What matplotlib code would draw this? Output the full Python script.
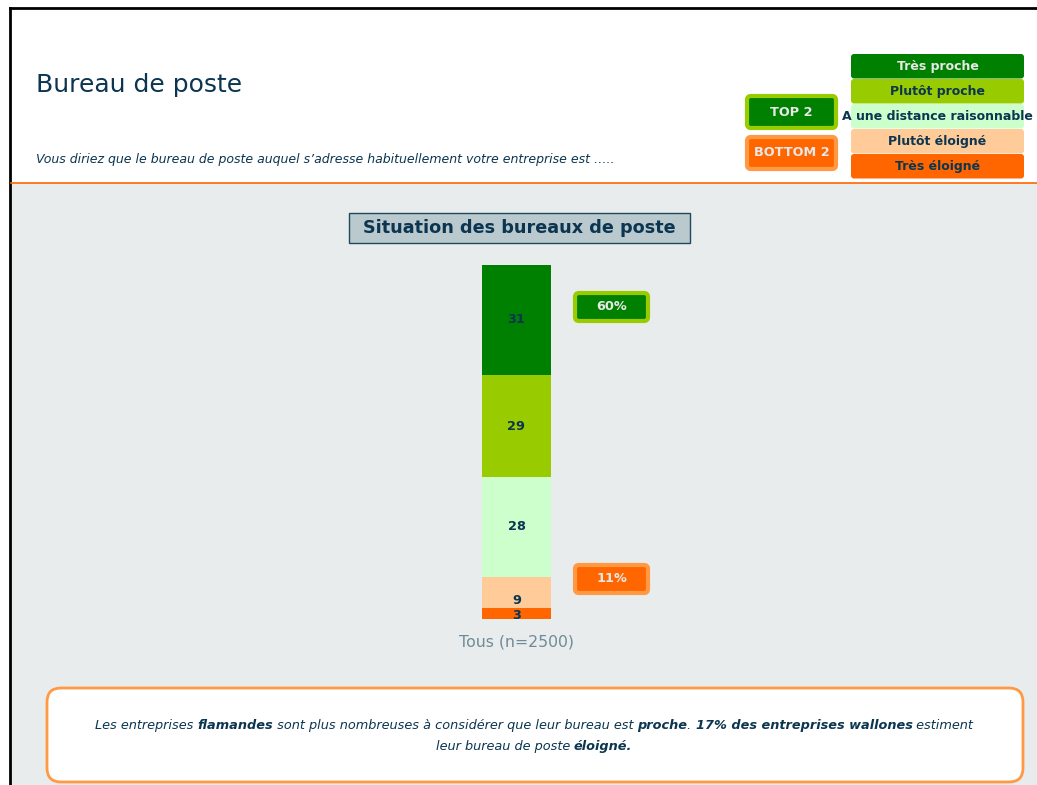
import matplotlib
matplotlib.use("Agg")
import matplotlib.pyplot as plt
from matplotlib.patches import FancyBboxPatch, Rectangle

# données
categories = ["Tous (n=2500)"]
labels = ["Très proche", "Plutôt proche", "A une distance raisonnable",
          "Plutôt éloigné", "Très éloigné"]
values = [31, 29, 28, 9, 3]
top2 = "60%"
bottom2 = "11%"

title = "Bureau de poste"
subtitle = "Vous diriez que le bureau de poste auquel s’adresse habituellement votre entreprise est ….."
chart_title = "Situation des bureaux de poste"
note_lines = [
    [("Les entreprises ", False), ("flamandes", True),
     (" sont plus nombreuses à considérer que leur bureau est ", False),
     ("proche", True), (". ", False), ("17% des entreprises wallones", True),
     (" estiment", False)],
    [("leur bureau de poste ", False), ("éloigné.", True)],
]

NAVY = "#0b3550"
COLS = ["#008000", "#99cc00", "#ccffcc", "#ffcc99", "#ff6600"]
TXT = ["#e8e8e8", NAVY, NAVY, NAVY, NAVY]
GREEN_EDGE, ORANGE_EDGE = "#99cc00", "#ff9944"
PANEL = "#e9eced"

plt.rcParams["font.family"] = ["DejaVu Sans"]

W, H = 1037, 785
fig = plt.figure(figsize=(W / 100, H / 100), dpi=100)
fig.patch.set_facecolor("white")

# fond en coordonnées pixels
bg = fig.add_axes([0, 0, 1, 1])
bg.set_xlim(0, W); bg.set_ylim(H, 0)
bg.axis("off")

bg.add_patch(Rectangle((11, 183), W, H, color=PANEL, lw=0))
bg.plot([10, 10], [8, H], color="black", lw=2)
bg.plot([10, W], [8, 8], color="black", lw=2)
bg.plot([11, W], [182.5, 182.5], color="#ff6600", lw=1.2)

bg.text(36, 85, title, fontsize=18, color=NAVY, va="center")
bg.text(36, 160, subtitle, fontsize=9.0, style="italic", color=NAVY, va="center")

def rbox(x, y, w, h, fc, ec=None, lw=0, r=4):
    bg.add_patch(FancyBboxPatch((x, y), w, h, boxstyle=f"round,pad=0,rounding_size={r}",
                                fc=fc, ec=ec if ec else fc, lw=lw))

# légende
for i, (lab, c, tc) in enumerate(zip(labels, COLS, TXT)):
    y0 = 54 + 25 * i
    rbox(851, y0, 173, 24.5, c, r=3)
    bg.text(937.5, y0 + 12.5, lab, fontsize=9.0, fontweight="bold", color=tc,
            ha="center", va="center")

def badge(x, y, w, h, txt, fc, ec):
    rbox(x, y, w, h, fc, ec, lw=3, r=4)
    bg.text(x + w / 2, y + h / 2, txt, fontsize=9.3, fontweight="bold",
            color="#e8e8e8", ha="center", va="center")

badge(747, 96, 89, 32, "TOP 2", COLS[0], GREEN_EDGE)
badge(747, 137, 89, 32, "BOTTOM 2", COLS[4], ORANGE_EDGE)

# titre du graphique
bg.add_patch(Rectangle((348.5, 212.5), 341, 30, fc="#b9c9cd", ec="#1f4a5e", lw=1))
bg.text(519, 228, chart_title, fontsize=12.7, fontweight="bold", color=NAVY,
        ha="center", va="center")

# barre empilée
ax = fig.add_axes([482 / W, (H - 619) / H, 69 / W, 354 / H])
ax.set_xlim(-0.5, 0.5); ax.set_ylim(0, 100)
ax.patch.set_alpha(0)
bottom = 100
for v, c in zip(values, COLS):
    bottom -= v
    ax.bar(0, v, bottom=bottom, width=1, color=c, lw=0)
    yc = bottom + v / 2
    if v < 10:
        yc -= 2.3 if bottom > 0 else 0.4
    ax.text(0, yc, str(v), fontsize=9.3, fontweight="bold", color=NAVY,
            ha="center", va="center")
ax.set_xticks([0], categories)
ax.tick_params(axis="x", length=0, pad=11, labelsize=11.3, labelcolor="#6f8a98")
ax.set_yticks([])
for sp in ax.spines.values():
    sp.set_visible(False)

badge(575, 293, 73, 28, top2, COLS[0], GREEN_EDGE)
badge(575, 565, 73, 28, bottom2, COLS[4], ORANGE_EDGE)

# encadré de commentaire
rbox(47, 688, 976, 94, "white", ORANGE_EDGE, lw=2, r=14)

fig.canvas.draw()
rend = fig.canvas.get_renderer()
for yl, parts in zip([729, 750], note_lines):
    arts = []
    for s, b in parts:
        t = bg.text(0, yl, s, fontsize=9.3, style="italic", color=NAVY,
                    fontweight="bold" if b else "normal", va="baseline")
        arts.append(t)
    widths = [t.get_window_extent(rend).width for t in arts]
    x = 534 - sum(widths) / 2
    for t, w in zip(arts, widths):
        t.set_x(x)
        x += w

fig.savefig("out.png", dpi=100, facecolor="white")
